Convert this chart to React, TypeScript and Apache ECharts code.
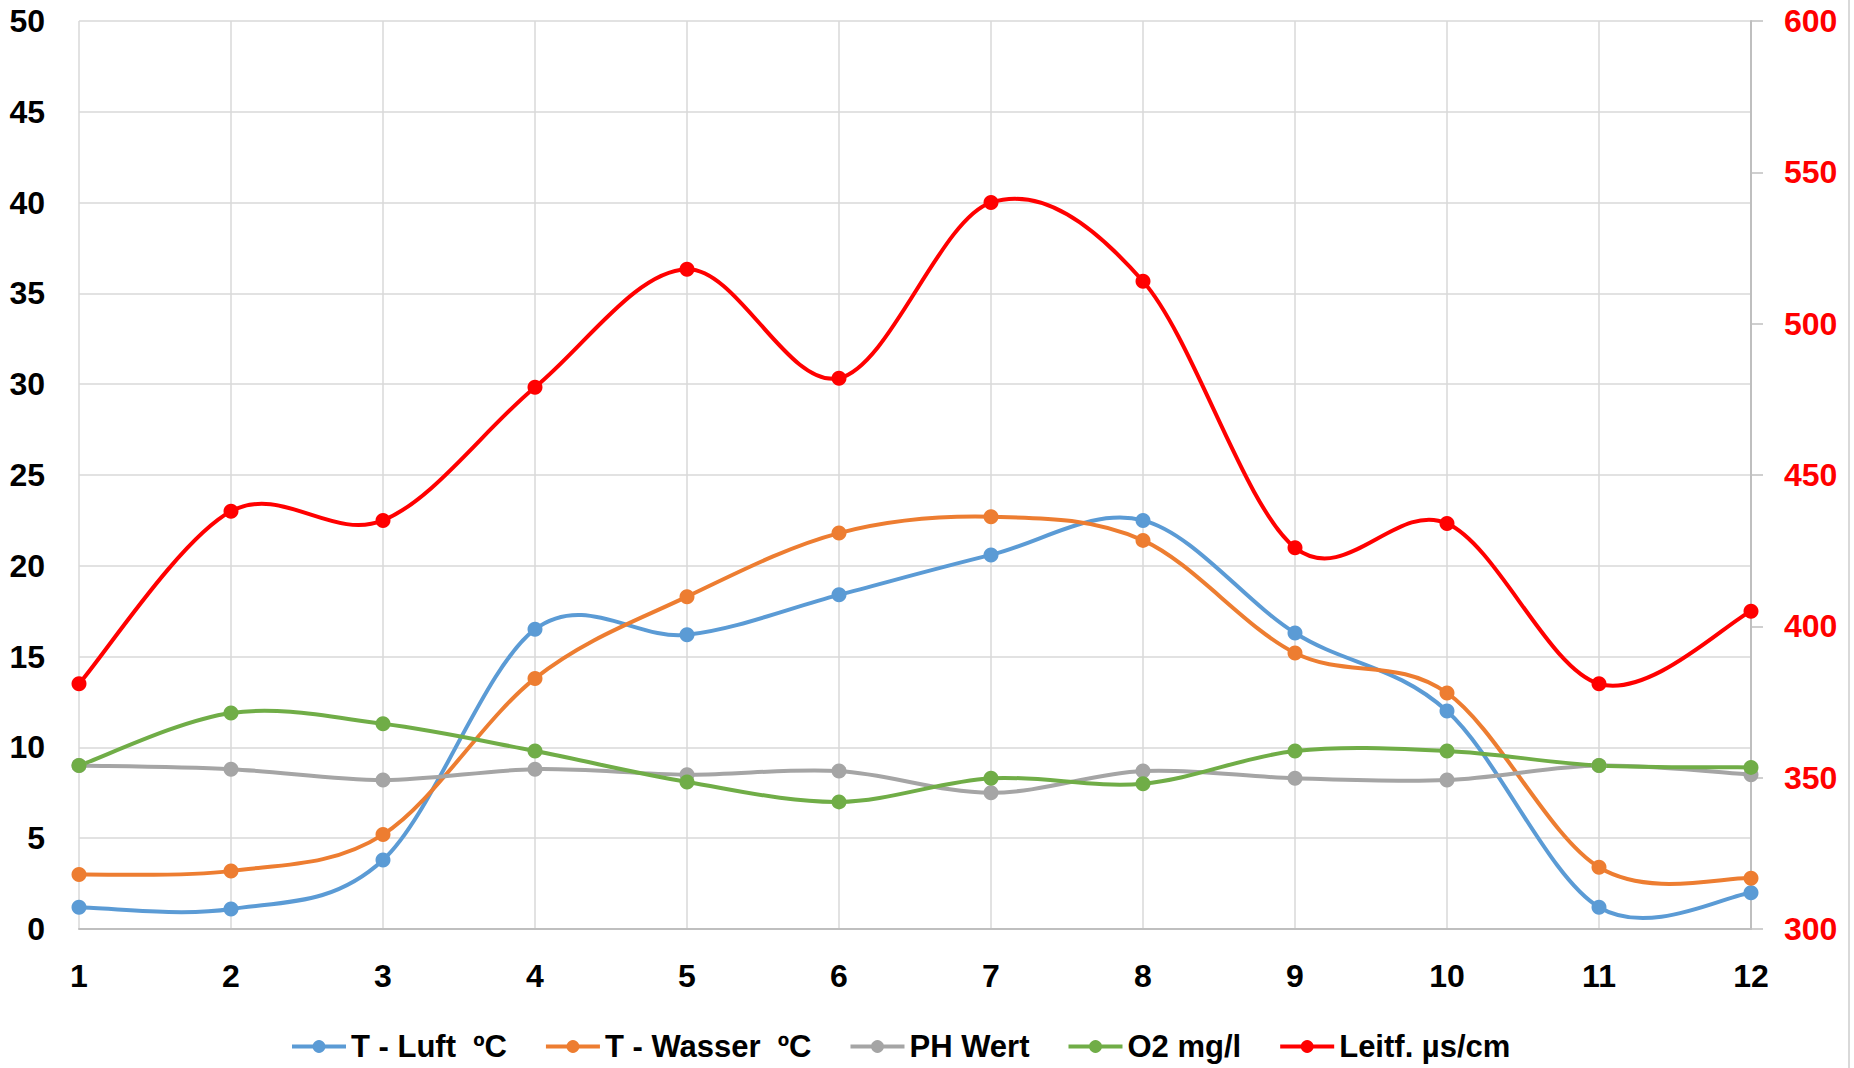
import React, { useEffect, useRef } from "react";
import * as echarts from "echarts";

const categories = ["1", "2", "3", "4", "5", "6", "7", "8", "9", "10", "11", "12"];
const tLuft = [1.2, 1.1, 3.8, 16.5, 16.2, 18.4, 20.6, 22.5, 16.3, 12.0, 1.2, 2.0];
const tWasser = [3.0, 3.2, 5.2, 13.8, 18.3, 21.8, 22.7, 21.4, 15.2, 13.0, 3.4, 2.8];
const phWert = [9.0, 8.8, 8.2, 8.8, 8.5, 8.7, 7.5, 8.7, 8.3, 8.2, 9.0, 8.5];
const o2 = [9.0, 11.9, 11.3, 9.8, 8.1, 7.0, 8.3, 8.0, 9.8, 9.8, 9.0, 8.9];
const leitf = [381, 438, 435, 479, 518, 482, 540, 514, 426, 434, 381, 405];

const names = ["T - Luft  ºC", "T - Wasser  ºC", "PH Wert", "O2 mg/l", "Leitf. µs/cm"];
const colors = ["#5B9BD5", "#ED7D31", "#A5A5A5", "#70AD47", "#FF0000"];

const FONT = "'Liberation Sans Narrow', 'Arial Narrow', 'Liberation Sans', Arial, sans-serif";
const LW = 4;

export default function App() {
  const ref = useRef<HTMLDivElement>(null);
  useEffect(() => {
    if (!ref.current) return;
    const chart = echarts.init(ref.current, undefined, { renderer: "svg" });
    const datasets = [tLuft, tWasser, phWert, o2, leitf];

    // Excel-style smoothed curve (Catmull-Rom as cubic Bezier segments)
    const curveSeries = datasets.map((arr, s) => ({
      name: "curve-" + s,
      type: "custom",
      yAxisIndex: s === 4 ? 1 : 0,
      z: 2,
      silent: true,
      clip: false,
      encode: { x: 0, y: 1 },
      data: arr.map((v, i) => [i, v]),
      renderItem: (params: any, api: any) => {
        const i = params.dataIndex;
        const n = arr.length;
        if (i >= n - 1) return { type: "group", children: [] };
        const idx = (k: number) => Math.max(0, Math.min(n - 1, k));
        const p0 = api.coord([idx(i - 1), arr[idx(i - 1)]]);
        const p1 = api.coord([i, arr[i]]);
        const p2 = api.coord([i + 1, arr[i + 1]]);
        const p3 = api.coord([idx(i + 2), arr[idx(i + 2)]]);
        return {
          type: "bezierCurve",
          shape: {
            x1: p1[0],
            y1: p1[1],
            x2: p2[0],
            y2: p2[1],
            cpx1: p1[0] + (p2[0] - p0[0]) / 6,
            cpy1: p1[1] + (p2[1] - p0[1]) / 6,
            cpx2: p2[0] - (p3[0] - p1[0]) / 6,
            cpy2: p2[1] - (p3[1] - p1[1]) / 6,
          },
          style: { stroke: colors[s], lineWidth: LW, fill: null, lineCap: "round" },
        };
      },
    }));

    const markerSeries = datasets.map((d, i) => ({
      name: names[i],
      type: "line",
      data: d,
      yAxisIndex: i === 4 ? 1 : 0,
      symbol: "circle",
      symbolSize: 15,
      lineStyle: { color: colors[i], width: LW, opacity: 0 },
      itemStyle: { color: colors[i] },
      z: 3,
    }));

    chart.setOption({
      animation: false,
      backgroundColor: "#ffffff",
      grid: { left: 79, right: 103, top: 21, bottom: 139, containLabel: false },
      legend: {
        left: 285,
        top: 1026,
        itemWidth: 54,
        itemHeight: 16,
        itemGap: 37,
        textStyle: { fontFamily: FONT, fontWeight: "bold", fontSize: 31, color: "#000" },
        data: names.map((n, i) => ({
          name: n,
          lineStyle: { color: colors[i], width: LW, opacity: 1 },
          itemStyle: { color: colors[i] },
        })),
      },
      xAxis: {
        type: "category",
        data: categories,
        boundaryGap: false,
        axisLine: { show: true, lineStyle: { color: "#BFBFBF", width: 2 } },
        axisTick: { show: false },
        splitLine: { show: true, lineStyle: { color: "#D9D9D9", width: 1.5 } },
        axisLabel: { fontFamily: FONT, fontWeight: "bold", fontSize: 32, color: "#000", margin: 31 },
      },
      yAxis: [
        {
          type: "value",
          min: 0,
          max: 50,
          interval: 5,
          axisLine: { show: false },
          axisTick: { show: false },
          splitLine: { show: true, lineStyle: { color: "#D9D9D9", width: 1.5 } },
          axisLabel: { fontFamily: FONT, fontWeight: "bold", fontSize: 32, color: "#000", margin: 34 },
        },
        {
          type: "value",
          min: 300,
          max: 600,
          interval: 50,
          position: "right",
          axisLine: { show: true, lineStyle: { color: "#BFBFBF", width: 2 } },
          axisTick: { show: true, length: 12, lineStyle: { color: "#BFBFBF", width: 1.5 } },
          splitLine: { show: false },
          axisLabel: { fontFamily: FONT, fontWeight: "bold", fontSize: 32, color: "#FF0000", margin: 33 },
        },
      ],
      graphic: [
        {
          type: "line",
          shape: { x1: 1849, y1: 0, x2: 1849, y2: 1068 },
          style: { stroke: "#D9D9D9", lineWidth: 2 },
        },
      ],
      series: [...curveSeries, ...markerSeries],
    });
    return () => chart.dispose();
  }, []);
  return (
    <div
      ref={ref}
      style={{ position: "absolute", left: 0, top: 0, width: 1854, height: 1068, background: "#fff" }}
    />
  );
}
